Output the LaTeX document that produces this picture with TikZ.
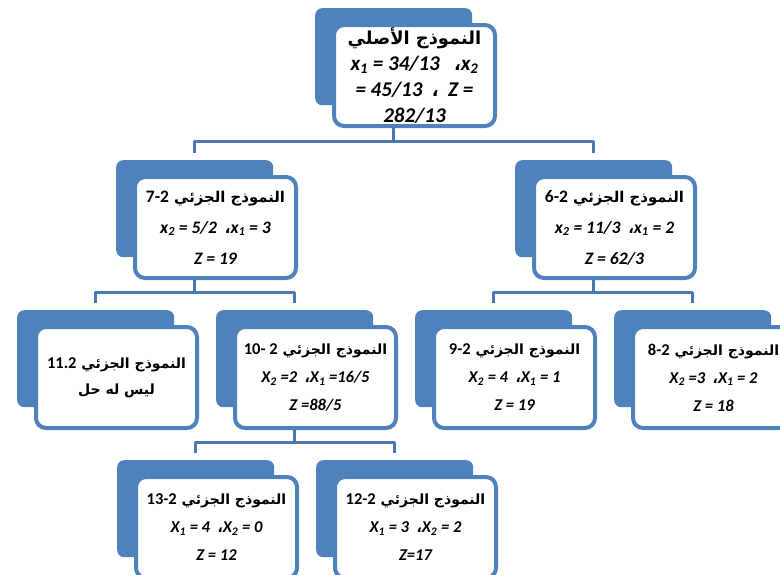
\documentclass[tikz,border=0pt]{standalone}
\usepackage{fontspec}
\setmainfont{Carlito}
\newfontfamily\ar[Script=Arabic,Scale=0.85]{DejaVu Sans}
\TeXXeTstate=1
\usetikzlibrary{calc}
\definecolor{boxblue}{HTML}{4F81BD}
\definecolor{linkblue}{HTML}{4A78B4}
\newcommand\cm{\char"060C}
\newcommand\arc{{\ar\bfseries\upshape\cm}}
\newcommand\ttl[2]{{\ar\bfseries\upshape\beginR #1\ifx\relax#2\relax\else\ \beginL{\normalfont\bfseries #2}\endL\fi\endR}}
\newcommand\tbox[5]{%
  \node[back, anchor=north west] (b-#1) at (#2,#3) {};
  \node[front, anchor=north west, font=#4] (f-#1) at (#2+17,#3+15) {#5};
}
\tikzset{
  back/.style={fill=boxblue, draw=none, rounded corners=7pt, minimum width=157pt, minimum height=97pt, inner sep=0pt},
  front/.style={fill=white, draw=boxblue, line width=4pt, rounded corners=10pt, minimum width=161pt, minimum height=101pt, inner sep=0pt, align=center, text=black},
  conn/.style={draw=linkblue, line width=3pt, line join=round}
}
\begin{document}
\begin{tikzpicture}[x=1pt,y=-1pt]
\useasboundingbox (0,0) rectangle (780,574);
\tbox{root}{315}{8}{\fontsize{21}{26}\selectfont\bfseries\itshape}{\ttl{النموذج الأصلي}{}\\ x\textsubscript{1} = 34/13 \ \ \arc x\textsubscript{2}\\ = 45/13 \ \arc\ \ Z =\\ 282/13}
\tbox{72}{116}{160}{\fontsize{17.5}{31}\selectfont\bfseries\itshape}{\ttl{النموذج الجزئي}{7-2}\\ x\textsubscript{2} = 5/2 \ \arc x\textsubscript{1} = 3\\ Z = 19}
\tbox{62}{515}{160}{\fontsize{17.5}{31}\selectfont\bfseries\itshape}{\ttl{النموذج الجزئي}{6-2}\\ x\textsubscript{2} = 11/3 \ \arc x\textsubscript{1} = 2\\ Z = 62/3}
\tbox{112}{17}{310}{\fontsize{16.5}{26}\selectfont\bfseries\itshape}{\ttl{النموذج الجزئي}{11.2}\\ {\ar\bfseries\upshape\beginR ليس له حل\endR}}
\tbox{102}{216}{310}{\fontsize{16.5}{28}\selectfont\bfseries\itshape}{\ttl{النموذج الجزئي}{10- 2}\\ X\textsubscript{2} =2 \ \arc X\textsubscript{1} =16/5\\ Z =88/5}
\tbox{92}{415}{310}{\fontsize{16.5}{28}\selectfont\bfseries\itshape}{\ttl{النموذج الجزئي}{9-2}\\ X\textsubscript{2} = 4 \ \arc X\textsubscript{1} = 1\\ Z = 19}
\tbox{82}{614}{310}{\fontsize{16.5}{28}\selectfont\bfseries\itshape}{\ttl{النموذج الجزئي}{8-2}\\ X\textsubscript{2} =3 \ \arc X\textsubscript{1} = 2\\ Z = 18}
\tbox{132}{117}{460}{\fontsize{16.5}{28}\selectfont\bfseries\itshape}{\ttl{النموذج الجزئي}{13-2}\\ X\textsubscript{1} = 4 \ \arc X\textsubscript{2} = 0\\ Z = 12}
\tbox{122}{316}{460}{\fontsize{16.5}{28}\selectfont\bfseries\itshape}{\ttl{النموذج الجزئي}{12-2}\\ X\textsubscript{1} = 3 \ \arc X\textsubscript{2} = 2\\ Z=17}
\coordinate (bus1) at (0,141);
\coordinate (bus2) at (0,292);
\coordinate (bus3) at (0,442);
% root -> level 2
\draw[conn] (b-root.center |- f-root.south) -- (b-root.center |- bus1);
\draw[conn] ([yshift=7pt]b-72.north) -- (b-72.north |- bus1) -- (b-62.north |- bus1) -- ([yshift=7pt]b-62.north);
% 7-2 -> 11.2, 10-2
\draw[conn] (b-72.center |- f-72.south) -- (b-72.center |- bus2);
\draw[conn] ([yshift=7pt]b-112.north) -- (b-112.north |- bus2) -- (b-102.north |- bus2) -- ([yshift=7pt]b-102.north);
% 6-2 -> 9-2, 8-2
\draw[conn] (b-62.center |- f-62.south) -- (b-62.center |- bus2);
\draw[conn] ([yshift=7pt]b-92.north) -- (b-92.north |- bus2) -- (b-82.north |- bus2) -- ([yshift=7pt]b-82.north);
% 10-2 -> 13-2, 12-2
\draw[conn] (b-102.center |- f-102.south) -- (b-102.center |- bus3);
\draw[conn] ([yshift=7pt]b-132.north) -- (b-132.north |- bus3) -- (b-122.north |- bus3) -- ([yshift=7pt]b-122.north);
\end{tikzpicture}
\end{document}
